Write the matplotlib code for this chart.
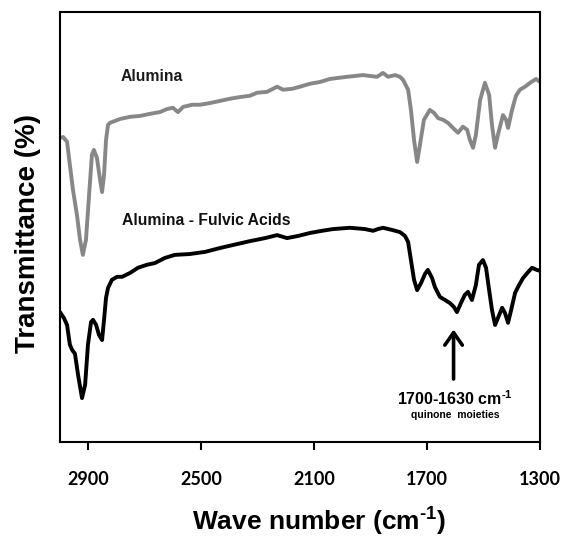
import matplotlib
matplotlib.use("Agg")
import matplotlib.pyplot as plt

plt.rcParams["font.family"] = ["Liberation Sans", "DejaVu Sans"]
plt.rcParams["font.weight"] = "bold"
plt.rcParams["mathtext.fontset"] = "custom"
plt.rcParams["mathtext.rm"] = "Liberation Sans:bold"
plt.rcParams["mathtext.bf"] = "Liberation Sans:bold"
plt.rcParams["mathtext.it"] = "Liberation Sans:bold"

# Alumina spectrum (wavenumber cm-1, transmittance a.u.)
alumina_wn = [3000, 2989, 2975, 2965, 2954, 2940, 2929, 2919, 2908, 2897, 2887, 2880,
              2869, 2858, 2851, 2844, 2837, 2830, 2823, 2787, 2752, 2717, 2681, 2646,
              2621, 2600, 2582, 2564, 2532, 2504, 2469, 2433, 2398, 2362, 2327, 2302,
              2267, 2231, 2210, 2178, 2150, 2114, 2079, 2044, 2008, 1983, 1955, 1927,
              1902, 1877, 1856, 1838, 1813, 1796, 1785, 1767, 1757, 1746, 1735, 1725,
              1711, 1690, 1675, 1661, 1643, 1626, 1608, 1590, 1573, 1558, 1548, 1537,
              1527, 1512, 1495, 1480, 1470, 1459, 1449, 1431, 1420, 1413, 1399, 1385,
              1371, 1353, 1335, 1314, 1300]
alumina_t = [70.7, 70.9, 69.8, 64.4, 58.6, 52.8, 47.0, 43.5, 47.0, 57.4, 66.7, 67.9,
             66.0, 60.9, 58.1, 62.1, 70.2, 73.7, 74.2, 75.1, 75.6, 75.8, 76.3, 76.7,
             77.4, 77.7, 76.7, 77.9, 78.4, 78.4, 78.8, 79.3, 79.8, 80.2, 80.5, 81.2,
             81.4, 82.6, 81.9, 82.1, 82.6, 83.3, 83.7, 84.4, 84.7, 84.9, 85.1, 85.3,
             85.1, 84.9, 85.8, 84.9, 85.3, 84.9, 84.2, 81.9, 77.2, 70.2, 65.1, 69.1,
             74.9, 77.2, 76.5, 75.3, 74.9, 74.2, 73.0, 71.9, 73.3, 72.6, 70.2, 68.4,
             71.4, 79.5, 83.5, 80.7, 73.7, 68.4, 71.4, 76.0, 74.9, 73.0, 77.2, 80.5,
             81.9, 82.6, 83.5, 84.4, 83.7]

# Alumina - Fulvic Acids spectrum
fulvic_wn = [3000, 2986, 2975, 2965, 2957, 2947, 2936, 2922, 2911, 2901, 2890, 2883,
             2872, 2862, 2851, 2844, 2837, 2830, 2816, 2798, 2780, 2752, 2724, 2692,
             2664, 2628, 2593, 2540, 2486, 2433, 2387, 2327, 2274, 2231, 2196, 2157,
             2114, 2072, 2033, 1973, 1920, 1891, 1874, 1856, 1824, 1796, 1778, 1767,
             1757, 1746, 1735, 1721, 1707, 1697, 1682, 1672, 1654, 1636, 1619, 1605,
             1594, 1580, 1566, 1555, 1541, 1527, 1516, 1502, 1491, 1480, 1470, 1459,
             1449, 1434, 1424, 1413, 1402, 1388, 1374, 1360, 1342, 1328, 1311, 1300]
fulvic_t = [30.2, 28.8, 27.2, 22.6, 21.4, 20.5, 15.6, 10.2, 13.3, 22.6, 27.9, 28.4,
            27.2, 24.9, 23.7, 28.4, 33.5, 35.8, 37.7, 38.4, 38.4, 39.3, 40.5, 41.2,
            41.6, 42.8, 43.5, 43.7, 44.2, 45.1, 45.8, 46.7, 47.4, 48.1, 47.4, 47.9,
            48.6, 49.1, 49.5, 49.8, 49.5, 49.1, 49.5, 49.8, 49.3, 48.8, 47.9, 46.5,
            42.3, 37.7, 35.3, 37.0, 39.1, 40.0, 38.1, 36.0, 33.7, 33.0, 32.3, 31.4,
            30.2, 32.3, 34.2, 34.9, 33.0, 36.5, 41.2, 42.3, 40.5, 35.3, 30.7, 27.2,
            28.8, 31.2, 30.0, 27.7, 30.7, 34.7, 36.5, 38.1, 39.5, 40.5, 40.0, 39.8]

x_ticks = [2900, 2500, 2100, 1700, 1300]

fig = plt.figure(figsize=(5.66, 5.39), dpi=100)
ax = fig.add_axes([0.106, 0.18, 0.848, 0.798])

ax.plot(alumina_wn, alumina_t, color="#878787", linewidth=2.8,
        solid_joinstyle="round", solid_capstyle="round")
ax.plot(fulvic_wn, fulvic_t, color="black", linewidth=2.8,
        solid_joinstyle="round", solid_capstyle="round")

ax.text(2787, 84.9, "Alumina", fontsize=11.3, fontweight="bold",
        color="#1a1a1a", va="center")
ax.text(2780, 51.6, "Alumina - Fulvic Acids", fontsize=11.3, fontweight="bold",
        color="#111111", va="center")

ax.annotate("", xy=(1606, 26.8), xytext=(1606, 14.0),
            arrowprops=dict(arrowstyle="->, head_length=0.5, head_width=0.35",
                            color="black", lw=2.6, mutation_scale=18))
ax.text(1601, 10.0, "1700-1630 cm$^{\\text{-1}}$", fontsize=11.5, fontweight="bold",
        ha="center", va="center")
ax.text(1601, 6.2, "quinone  moieties", fontsize=7.5, fontweight="bold",
        ha="center", va="center")

ax.set_xlim(3000, 1300)
ax.set_ylim(0, 100)
ax.set_xticks(x_ticks)
ax.set_xticklabels([str(t) for t in x_ticks], fontfamily="Lato", fontweight="bold",
                   fontsize=13)
ax.set_yticks([])
ax.tick_params(axis="x", direction="out", length=6, width=1.5, pad=15)
for s in ax.spines.values():
    s.set_linewidth(1.5)

ax.set_xlabel("Wave number (cm$^{\\text{-1}}$)", fontsize=19, fontweight="bold",
              labelpad=13, x=0.54)
ax.set_ylabel("Transmittance (%)", fontsize=20, fontweight="bold", labelpad=14, y=0.485)

plt.savefig("out.png", dpi=100)
plt.close()
